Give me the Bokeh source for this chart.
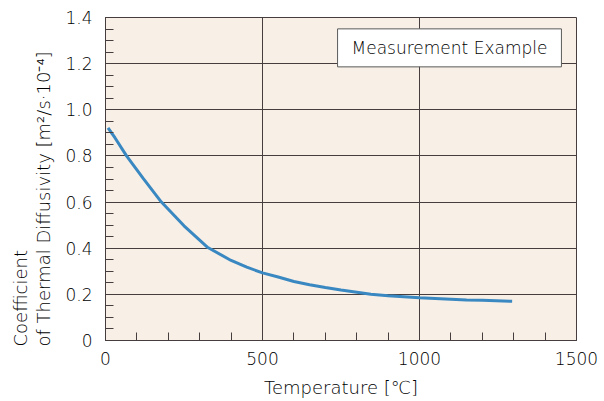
import math
from bokeh.plotting import figure
from bokeh.models import Range1d, FixedTicker, Label, Title
from bokeh.embed import file_html
from bokeh.resources import INLINE

# data
temperature = [8, 30, 67, 120, 178, 250, 326, 400, 450, 500, 550, 600, 650, 700, 750,
               845, 900, 1000, 1100, 1150, 1200, 1295]
diffusivity = [0.922, 0.879, 0.80, 0.703, 0.60, 0.497, 0.403, 0.347, 0.318, 0.293, 0.275,
               0.256, 0.242, 0.230, 0.219, 0.200, 0.194, 0.185, 0.179, 0.176, 0.174, 0.170]

x_ticks = [0, 500, 1000, 1500]
x_minor = list(range(0, 1501, 100))
y_ticks = [0, 0.2, 0.4, 0.6, 0.8, 1.0, 1.2, 1.4]
y_tick_labels = ["0", "0.2", "0.4", "0.6", "0.8", "1.0", "1.2", "1.4"]
y_minor = [round(i * 0.05, 2) for i in range(0, 29)]

x_title = "Temperature [℃]"
y_title_1 = "Coefficient"
y_title_2 = "of Thermal Diffusivity [m²/s·10⁻⁴]"
legend_text = "Measurement Example"

FONT = "DejaVu Sans Light"
TXT = "#000000"
GRID = "#463e3e"

p = figure(width=604, height=401, output_backend="svg", toolbar_location=None,
           x_range=Range1d(0, 1500), y_range=Range1d(0, 1.4),
           min_border_left=104, min_border_right=28, min_border_top=17,
           min_border_bottom=61)

p.background_fill_color = "#f8efe6"
p.border_fill_color = "white"
p.outline_line_color = GRID
p.outline_line_width = 1

p.xaxis.ticker = FixedTicker(ticks=x_ticks, minor_ticks=x_minor)
p.yaxis.ticker = FixedTicker(ticks=y_ticks, minor_ticks=y_minor)
p.yaxis.major_label_overrides = {t: s for t, s in zip(y_ticks, y_tick_labels)}

for ax in (p.xaxis[0], p.yaxis[0]):
    ax.axis_line_color = GRID
    ax.major_tick_in = 8
    ax.major_tick_out = 0
    ax.minor_tick_in = 8
    ax.minor_tick_out = 0
    ax.major_tick_line_color = GRID
    ax.minor_tick_line_color = GRID
    ax.major_label_text_font = FONT
    ax.major_label_text_font_size = "17px"
    ax.major_label_text_color = TXT
    ax.axis_label_text_font = FONT
    ax.axis_label_text_font_style = "normal"
    ax.axis_label_text_font_size = "18px"
    ax.axis_label_text_color = TXT

p.yaxis.major_label_standoff = 13
p.xaxis.major_label_standoff = 11
p.xaxis.axis_label = x_title
p.xaxis.axis_label_standoff = 9

p.xgrid.ticker = FixedTicker(ticks=x_ticks)
p.ygrid.ticker = FixedTicker(ticks=y_ticks)
p.grid.grid_line_color = GRID
p.grid.grid_line_width = 1
p.grid.grid_line_alpha = 1

p.line(temperature, diffusivity, line_color="#3a88c2", line_width=3)

p.add_layout(Title(text=y_title_1 + "\n" + y_title_2, align="left", offset=-6,
                   standoff=16, text_font=FONT, text_font_style="normal",
                   text_font_size="18px", text_color=TXT, text_line_height=1.1),
             "left")

p.add_layout(Label(x=1452, y=1.186, text=legend_text, text_align="right",
                   text_baseline="bottom", text_font=FONT, text_font_size="17px",
                   text_color=TXT, background_fill_color="white",
                   border_line_color="#5a5a5a", border_line_width=1,
                   padding=(14, 9)))

open("out.html", "w").write(file_html(p, INLINE))
